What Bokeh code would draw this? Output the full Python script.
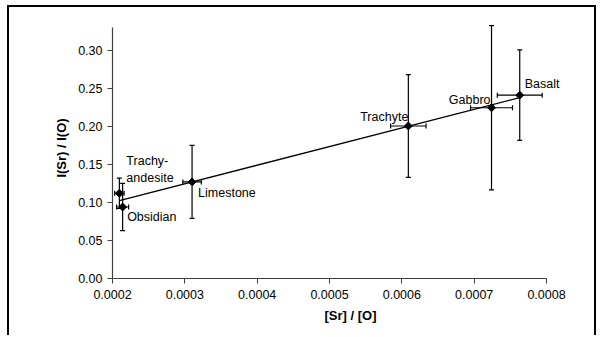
import numpy as np
from bokeh.plotting import figure
from bokeh.models import (ColumnDataSource, Whisker, TeeHead, FixedTicker,
                          NumeralTickFormatter, LabelSet)
from bokeh.core.properties import value
from bokeh.embed import file_html
from bokeh.resources import INLINE

# ---- data ----
rocks = ["Trachy-\nandesite", "Obsidian", "Limestone", "Trachyte", "Gabbro", "Basalt"]
sr_o = [0.0002095, 0.000214, 0.00031, 0.000609, 0.000724, 0.000763]
i_ratio = [0.112, 0.094, 0.127, 0.2005, 0.2245, 0.241]
i_err = [0.020, 0.031, 0.048, 0.0675, 0.108, 0.0595]
sr_err = [0.0000065, 0.0000083, 0.0000128, 0.0000245, 0.000029, 0.000031]
x_ticks = [0.0002, 0.0003, 0.0004, 0.0005, 0.0006, 0.0007, 0.0008]
y_ticks = [0.0, 0.05, 0.10, 0.15, 0.20, 0.25, 0.30]
x_axis_span = (0.0002, 0.0008)
y_axis_span = (0.0, 0.33)

# ---- label placement (styles; pixel offsets, y up) ----
lab_dx = [7, 4.5, 6, 0, -1, 5]
lab_dy = [24, -10, -10.7, 9.3, 8, 11]
lab_align = ["left", "left", "left", "right", "right", "left"]

FONT = "Liberation Sans"

# ---- layout (pixels) ----
AX_W, AX_H = 434, 251          # length of the drawn axes
EXTRA_R, EXTRA_T = 42, 10      # free frame room beyond the axes for labels / bars
MB_L, MB_B = 103, 59
W, H = 589, 330

x_end = x_axis_span[1] + (x_axis_span[1] - x_axis_span[0]) * EXTRA_R / AX_W
y_end = y_axis_span[1] + (y_axis_span[1] - y_axis_span[0]) * EXTRA_T / AX_H

xs = np.array(sr_o)
ys = np.array(i_ratio)
ye = np.array(i_err)
xe = np.array(sr_err)

src = ColumnDataSource(dict(
    x=xs, y=ys,
    yl=ys - ye, yu=ys + ye,
    xl=xs - xe, xu=xs + xe,
    name=rocks, dx=lab_dx, dy=lab_dy, align=lab_align,
))

p = figure(width=W, height=H, x_range=(x_axis_span[0], x_end), y_range=(y_axis_span[0], y_end),
           output_backend="svg", toolbar_location=None,
           min_border_left=MB_L, min_border_right=W - MB_L - AX_W - EXTRA_R,
           min_border_top=H - MB_B - AX_H - EXTRA_T, min_border_bottom=MB_B)
p.styles = {"border-style": "solid", "border-color": "black",
            "border-width": "2px 2px 0px 2px", "margin-left": "7px", "margin-top": "5px"}

p.outline_line_color = None
p.xgrid.visible = False
p.ygrid.visible = False
p.background_fill_color = "white"
p.border_fill_color = "white"

# linear fit
k, b = np.polyfit(xs, ys, 1)
fx = np.array([xs.min(), xs.max()])
p.line(fx, k * fx + b, line_color="black", line_width=1.3)

# error bars
for base, lo, hi, dim in (("x", "yl", "yu", "height"), ("y", "xl", "xu", "width")):
    p.add_layout(Whisker(source=src, base=base, lower=lo, upper=hi, dimension=dim,
                         line_color="black", line_width=1.2,
                         lower_head=TeeHead(size=5, line_color="black", line_width=1.2),
                         upper_head=TeeHead(size=5, line_color="black", line_width=1.2)))

p.scatter("x", "y", source=src, marker="square", angle=np.pi / 4, size=5.6,
          fill_color="black", line_color="black")

p.add_layout(LabelSet(x="x", y="y", text="name", source=src,
                      x_offset="dx", y_offset="dy", text_align="align",
                      text_baseline="middle", text_font=value(FONT),
                      text_font_size="12.5px", text_color="black", text_line_height=1.2))

for ax in (p.xaxis[0], p.yaxis[0]):
    ax.axis_line_color = "#404040"
    ax.axis_line_width = 1.2
    ax.major_tick_line_color = "#404040"
    ax.major_tick_in = 0
    ax.major_tick_out = 5
    ax.minor_tick_line_color = None
    ax.major_label_text_font = FONT
    ax.major_label_text_font_size = "12.5px"
    ax.major_label_text_color = "black"
    ax.axis_label_text_font = FONT
    ax.axis_label_text_font_size = "13px"
    ax.axis_label_text_font_style = "bold"
    ax.axis_label_text_color = "black"

p.xaxis.bounds = x_axis_span
p.yaxis.bounds = y_axis_span
p.xaxis.ticker = FixedTicker(ticks=x_ticks)
p.yaxis.ticker = FixedTicker(ticks=y_ticks)
p.xaxis.formatter = NumeralTickFormatter(format="0.0000")
p.yaxis.formatter = NumeralTickFormatter(format="0.00")
p.xaxis.axis_label = "[Sr] / [O]"
p.yaxis.axis_label = "I(Sr) / I(O)"
p.xaxis.major_label_standoff = 6
p.yaxis.major_label_standoff = 5
p.xaxis.axis_label_standoff = 6
p.yaxis.axis_label_standoff = 6

open("out.html", "w").write(file_html(p, INLINE))
